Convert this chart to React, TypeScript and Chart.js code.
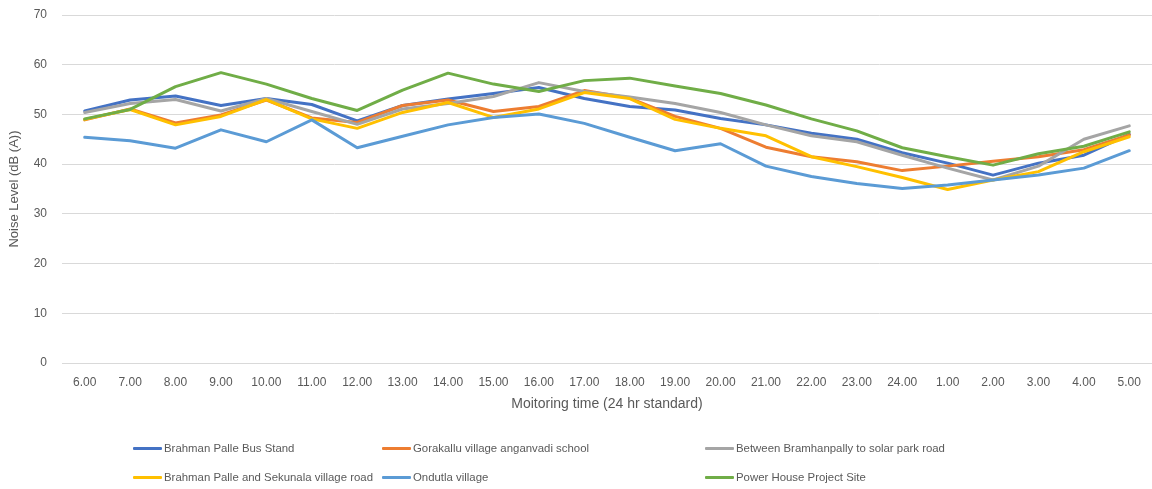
import React, { useEffect, useRef } from "react";
import { Chart, registerables } from "chart.js";
Chart.register(...registerables);

const categories = ["6.00", "7.00", "8.00", "9.00", "10.00", "11.00", "12.00", "13.00", "14.00", "15.00", "16.00", "17.00", "18.00", "19.00", "20.00", "21.00", "22.00", "23.00", "24.00", "1.00", "2.00", "3.00", "4.00", "5.00"];
const busStand = [50.7, 52.9, 53.7, 51.8, 53.2, 52.0, 48.7, 51.8, 53.1, 54.2, 55.4, 53.2, 51.6, 50.9, 49.2, 47.9, 46.2, 45.0, 42.3, 40.2, 37.8, 40.2, 41.8, 46.0];
const gorakallu = [48.9, 51.1, 48.3, 49.9, 52.9, 49.3, 48.4, 51.8, 52.9, 50.6, 51.6, 54.8, 53.3, 49.6, 47.2, 43.4, 41.5, 40.5, 38.7, 39.6, 40.6, 41.5, 42.9, 45.9];
const between = [50.4, 52.2, 53.0, 50.7, 53.2, 50.6, 48.0, 51.1, 52.2, 53.6, 56.4, 54.6, 53.5, 52.2, 50.4, 47.9, 45.7, 44.5, 41.8, 39.2, 36.8, 39.6, 45.0, 47.7];
const sekunala = [49.0, 51.0, 47.9, 49.6, 53.0, 49.1, 47.2, 50.4, 52.4, 49.4, 51.1, 54.4, 53.2, 49.0, 47.2, 45.7, 41.5, 39.5, 37.3, 34.9, 36.8, 38.5, 42.5, 45.5];
const ondutla = [45.4, 44.7, 43.2, 46.9, 44.5, 48.9, 43.3, 45.6, 47.9, 49.4, 50.1, 48.2, 45.4, 42.7, 44.1, 39.6, 37.5, 36.1, 35.1, 35.8, 36.8, 37.8, 39.2, 42.7];
const powerHouse = [49.1, 51.0, 55.6, 58.4, 56.1, 53.2, 50.8, 54.9, 58.3, 56.1, 54.6, 56.8, 57.3, 55.7, 54.2, 51.9, 49.1, 46.7, 43.3, 41.5, 39.8, 42.1, 43.6, 46.5];

const seriesNames = [
  "Brahman Palle Bus Stand",
  "Gorakallu village anganvadi school",
  "Between Bramhanpally to solar park road",
  "Brahman Palle and Sekunala village road",
  "Ondutla village",
  "Power House Project Site",
];
const seriesData = [busStand, gorakallu, between, sekunala, ondutla, powerHouse];
const seriesColors = ["#4472C4", "#ED7D31", "#A5A5A5", "#FFC000", "#5B9BD5", "#70AD47"];

const FONT = "'Liberation Sans', Arial, sans-serif";
const TEXT = "#595959";

const legendPos = [
  { x: 133, y: 448 },
  { x: 382, y: 448 },
  { x: 705, y: 448 },
  { x: 133, y: 477 },
  { x: 382, y: 477 },
  { x: 705, y: 477 },
];

export default function App() {
  const ref = useRef<HTMLCanvasElement | null>(null);
  useEffect(() => {
    if (!ref.current) return;
    const chart = new Chart(ref.current, {
      type: "line",
      data: {
        labels: categories,
        datasets: seriesNames.map((name, i) => ({
          label: name,
          data: seriesData[i],
          borderColor: seriesColors[i],
          backgroundColor: seriesColors[i],
          borderWidth: 3,
          pointRadius: 0,
          tension: 0,
          order: 6 - i,
          borderCapStyle: "round" as const,
          borderJoinStyle: "round" as const,
        })),
      },
      options: {
        responsive: false,
        animation: false,
        layout: { padding: { top: 15, left: 0, right: 0, bottom: 66 } },
        plugins: {
          legend: { display: false },
          tooltip: { enabled: false },
        },
        scales: {
          x: {
            offset: true,
            grid: { display: false, drawTicks: false },
            border: { color: "#d9d9d9" },
            ticks: {
              color: TEXT,
              font: { family: FONT, size: 12 },
              padding: 12,
              maxRotation: 0,
              autoSkip: false,
            },
            title: {
              display: true,
              text: "Moitoring time (24 hr standard)",
              color: TEXT,
              font: { family: FONT, size: 14 },
              padding: { top: 4, bottom: 10 },
            },
            afterFit: (s: any) => {
              s.height = 60;
              s.paddingLeft = 0;
              s.paddingRight = 0;
            },
          },
          y: {
            min: 0,
            max: 70,
            ticks: {
              stepSize: 10,
              color: TEXT,
              font: { family: FONT, size: 12 },
              padding: 15,
            },
            grid: { color: "#d9d9d9", drawTicks: false },
            border: { display: false },
            title: {
              display: true,
              text: "Noise Level (dB (A))",
              color: TEXT,
              font: { family: FONT, size: 13 },
              padding: { top: 7, bottom: 0 },
            },
            afterFit: (s: any) => {
              s.width = 62;
              s.paddingTop = 0;
              s.paddingBottom = 0;
            },
          },
        },
      },
    });
    return () => chart.destroy();
  }, []);

  return (
    <div style={{ position: "fixed", left: 0, top: 0, width: 1152, height: 489, background: "#fff" }}>
      <canvas ref={ref} width={1152} height={489} style={{ display: "block" }} />
      {seriesNames.map((name, i) => (
        <div
          key={name}
          style={{
            position: "absolute",
            left: legendPos[i].x,
            top: legendPos[i].y - 9,
            height: 18,
            display: "flex",
            alignItems: "center",
            fontFamily: FONT,
            fontSize: 11.4,
            color: TEXT,
            whiteSpace: "nowrap",
          }}
        >
          <span style={{ display: "inline-block", width: 29, height: 3, background: seriesColors[i], marginRight: 2, borderRadius: 1 }} />
          <span>{name}</span>
        </div>
      ))}
    </div>
  );
}
